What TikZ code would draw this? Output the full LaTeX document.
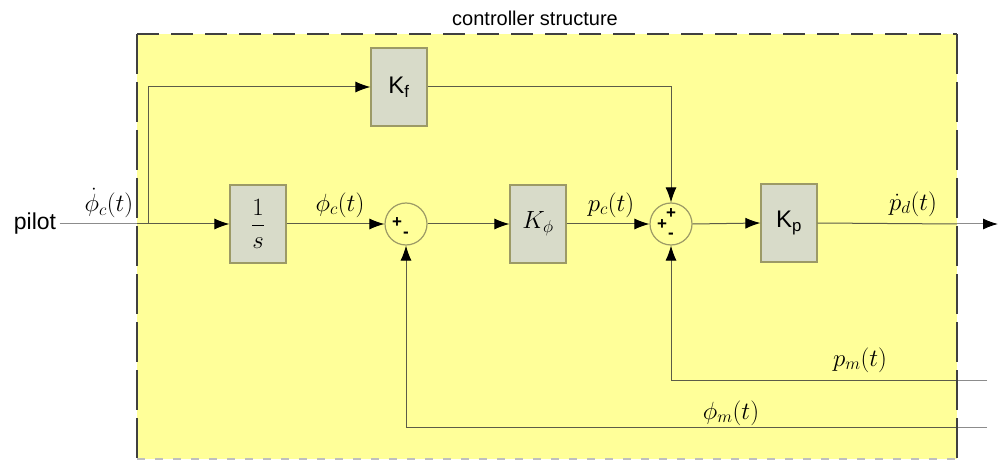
\documentclass[tikz,border=0pt]{standalone}
\usepackage{amsmath}
\usepackage{fontspec}
\setmainfont{Liberation Sans}
\usetikzlibrary{arrows.meta}
\definecolor{ctrlyellow}{HTML}{FFFF99}
\definecolor{blockfill}{HTML}{D8DBC9}
\definecolor{blockedge}{HTML}{9C9A66}
\definecolor{sigline}{HTML}{5C5C48}
\definecolor{outline}{HTML}{8C8C8C}

\begin{document}
\begin{tikzpicture}[x=1pt, y=-1pt,
  block/.style={draw=blockedge, fill=blockfill, line width=1.2pt, minimum width=56pt, minimum height=78pt, inner sep=0pt, font=\fontsize{24}{28}\selectfont},
  sumnode/.style={circle, draw=blockedge, fill=ctrlyellow, line width=1.2pt, minimum size=42pt, inner sep=0pt},
  sig/.style={draw=sigline, line width=1pt},
  outsig/.style={draw=outline, line width=1pt},
  tip/.style={-{Latex[length=15pt,width=11pt,black]}},
  lbl/.style={font=\fontsize{24}{28}\selectfont, inner sep=0pt},
  sgn/.style={font=\fontsize{17}{17}\selectfont\bfseries, inner sep=0pt}]
  \useasboundingbox (0,0) rectangle (1000,462);
  % controller area
  \fill[ctrlyellow] (137,34) rectangle (957,459);
  \node[font=\fontsize{20}{24}\selectfont] (title) at (535,18) {controller structure};
  \coordinate (boxL) at (137,224);
  \coordinate (ffb) at (148,224);
  \coordinate (boxR) at (957,224);
  \coordinate (outR) at (998,224);
  \coordinate (pmin) at (987,380);
  \coordinate (pmedge) at (957,380);
  \coordinate (phimin) at (987,427);
  \coordinate (phimedge) at (957,427);
  % blocks
  \node[font=\fontsize{23}{28}\selectfont] (pilot) at (35,224) {pilot};
  \node[block] (integ) at (258,224) {$\dfrac{1}{s}$};
  \node[block] (kf) at (399,87) {K\textsubscript{f}};
  \node[sumnode] (s1) at (406,224) {};
  \node[block] (kphi) at (538,224) {$K_\phi$};
  \node[sumnode] (s2) at (671,224) {};
  \node[block] (kp) at (789,223) {K\textsubscript{p}};
  \node[sgn] (s1a) at ([shift={(-9,-1)}]s1.center) {+};
  \node[sgn] (s1b) at ([shift={(0,11)}]s1.center) {-};
  \node[sgn] (s2a) at ([shift={(0,-10)}]s2.center) {+};
  \node[sgn] (s2b) at ([shift={(-9,1)}]s2.center) {+};
  \node[sgn] (s2c) at ([shift={(0,12)}]s2.center) {-};
  % signals
  \draw[outsig] (pilot.east) -- (boxL);
  \draw[sig, tip] (boxL) -- (integ.west);
  \draw[sig, tip] (ffb) |- (kf.west);
  \draw[sig, tip] (kf.east) -| (s2.north);
  \draw[sig, tip] (integ.east) -- (s1.west);
  \draw[sig, tip] (s1.east) -- (kphi.west);
  \draw[sig, tip] (kphi.east) -- (s2.west);
  \draw[sig, tip] (s2.east) -- (kp.west);
  \draw[sig] (kp.east) -- (boxR);
  \draw[outsig, tip] (boxR) -- (outR);
  \draw[outsig] (pmin) -- (pmedge);
  \draw[sig, tip] (pmedge) -| (s2.south);
  \draw[outsig] (phimin) -- (phimedge);
  \draw[sig, tip] (phimedge) -| (s1.south);
  % labels
  \node[lbl] (lphicdot) at (109,203) {$\dot{\phi}_c(t)$};
  \node[lbl] (lphic) at (340,205) {$\phi_c(t)$};
  \node[lbl] (lpc) at (611,205) {$p_c(t)$};
  \node[lbl] (lpd) at (913,204) {$\dot{p}_d(t)$};
  \node[lbl] (lpm) at (860,360) {$p_m(t)$};
  \node[lbl] (lphim) at (731,413) {$\phi_m(t)$};
  % dashed border
  \draw[draw=black!75, line width=2.5pt, dash pattern=on 22pt off 12pt] (137,34) -- (957,34);
  \draw[draw=black!75, line width=2.5pt, dash pattern=on 40pt off 8pt] (137,34) -- (137,459);
  \draw[draw=black!75, line width=2.5pt, dash pattern=on 40pt off 8pt] (957,34) -- (957,459);
  \draw[draw=black!25, line width=1.5pt, dash pattern=on 8pt off 10pt] (137,459) -- (957,459);
\end{tikzpicture}
\end{document}
